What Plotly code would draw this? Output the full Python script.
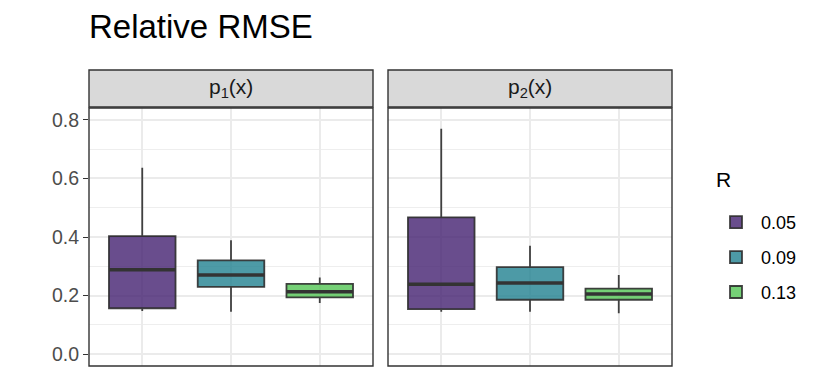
import plotly.graph_objects as go

# ---- data ----
groups = ["0.05", "0.09", "0.13"]
panels = ["p<sub>1</sub>(x)", "p<sub>2</sub>(x)"]
x_pos = [1, 2, 3]

p1_upper = [0.636, 0.389, 0.262]
p1_q3 = [0.403, 0.320, 0.240]
p1_med = [0.288, 0.270, 0.213]
p1_q1 = [0.157, 0.230, 0.194]
p1_lower = [0.148, 0.145, 0.175]

p2_upper = [0.769, 0.370, 0.270]
p2_q3 = [0.467, 0.297, 0.224]
p2_med = [0.239, 0.243, 0.206]
p2_q1 = [0.154, 0.186, 0.186]
p2_lower = [0.145, 0.145, 0.140]

y_ticks = [0.0, 0.2, 0.4, 0.6, 0.8]
y_minor = [0.1, 0.3, 0.5, 0.7]

fills = ["rgba(68,33,112,0.8)", "rgba(32,129,144,0.8)", "rgba(82,196,84,0.8)"]
FONT = "Liberation Sans, Arial, sans-serif"
W, H = 830, 387
BOX_W = 0.75

fig = go.Figure()

panel_data = [
    (p1_lower, p1_q1, p1_med, p1_q3, p1_upper, "x", "y"),
    (p2_lower, p2_q1, p2_med, p2_q3, p2_upper, "x2", "y2"),
]

for pi, (lo, q1, md, q3, up, xa, ya) in enumerate(panel_data):
    for gi, g in enumerate(groups):
        fig.add_trace(go.Box(
            x=[x_pos[gi]], q1=[q1[gi]], median=[md[gi]], q3=[q3[gi]],
            lowerfence=[lo[gi]], upperfence=[up[gi]],
            width=BOX_W, whiskerwidth=0,
            fillcolor=fills[gi],
            line=dict(color="rgba(45,45,45,0.9)", width=1.8),
            name=g, legendgroup=g, showlegend=(pi == 0),
            boxpoints=False, hoverinfo="skip",
            xaxis=xa, yaxis=ya,
        ))
        # thicker median bar (ggplot fatten)
        fig.add_trace(go.Scatter(
            x=[x_pos[gi] - BOX_W / 2, x_pos[gi] + BOX_W / 2],
            y=[md[gi], md[gi]], mode="lines",
            line=dict(color="#333333", width=3.5),
            showlegend=False, hoverinfo="skip", xaxis=xa, yaxis=ya,
        ))

dom1 = [89 / W, 373 / W]
dom2 = [388 / W, 672 / W]
ydom = [1 - 366 / H, 1 - 108 / H]

xcommon = dict(range=[0.4, 3.6], tickvals=x_pos, showticklabels=False, ticks="",
               showgrid=True, gridcolor="#EBEBEB", gridwidth=1.6, zeroline=False,
               showline=False)
ycommon = dict(range=[-0.04, 0.84], tickvals=y_ticks, showgrid=True,
               gridcolor="#EBEBEB", gridwidth=1.6, zeroline=False, showline=False,
               minor=dict(tickvals=y_minor, showgrid=True, gridcolor="#EEEEEE",
                          gridwidth=0.9, ticks=""),
               domain=ydom)

fig.update_layout(
    width=W, height=H, margin=dict(l=0, r=0, t=0, b=0),
    paper_bgcolor="white", plot_bgcolor="white",
    boxmode="overlay",
    font=dict(family=FONT),
    xaxis=dict(domain=dom1, anchor="y", **xcommon),
    xaxis2=dict(domain=dom2, anchor="y2", **xcommon),
    yaxis=dict(anchor="x", ticks="outside", ticklen=5, tickcolor="#333333",
               tickwidth=1.4, tickfont=dict(size=19.5, color="#4D4D4D", family=FONT),
               tickformat=".1f", **ycommon),
    yaxis2=dict(anchor="x2", matches="y", showticklabels=False, ticks="", **ycommon),
    legend=dict(
        font=dict(size=18, color="black", family=FONT),
        x=711 / W, xanchor="left", y=1 - 204 / H, yanchor="top",
        tracegroupgap=8.5, itemwidth=40, bgcolor="rgba(0,0,0,0)",
    ),
)

shapes = []
annotations = []
for xa, ya, dom, label in [("x", "y", dom1, panels[0]), ("x2", "y2", dom2, panels[1])]:
    # strip
    shapes.append(dict(type="rect", xref="paper", yref="paper",
                       x0=dom[0], x1=dom[1], y0=1 - 107 / H, y1=1 - 70 / H,
                       fillcolor="#D9D9D9", line=dict(color="#333333", width=1.4),
                       layer="above"))
    # panel border
    shapes.append(dict(type="rect", xref=f"{xa} domain", yref=f"{ya} domain",
                       x0=0, x1=1, y0=0, y1=1, fillcolor="rgba(0,0,0,0)",
                       line=dict(color="#333333", width=1.4), layer="above"))
    annotations.append(dict(text=label, xref="paper", yref="paper",
                            x=(dom[0] + dom[1]) / 2, y=1 - 88.5 / H,
                            xanchor="center", yanchor="middle", showarrow=False,
                            font=dict(size=21, color="#1A1A1A", family=FONT)))

annotations.append(dict(text="Relative RMSE", xref="paper", yref="paper",
                        x=87 / W, y=1 - 26 / H, xanchor="left", yanchor="middle",
                        showarrow=False, font=dict(size=33, color="black", family=FONT)))
# legend title
annotations.append(dict(text="R", xref="paper", yref="paper",
                        x=714 / W, y=1 - 180 / H, xanchor="left", yanchor="middle",
                        showarrow=False, font=dict(size=21, color="black", family=FONT)))

fig.update_layout(shapes=shapes, annotations=annotations)

fig.write_html("out.html", config={"displayModeBar": False},
               post_script="document.body.style.margin='0';")
